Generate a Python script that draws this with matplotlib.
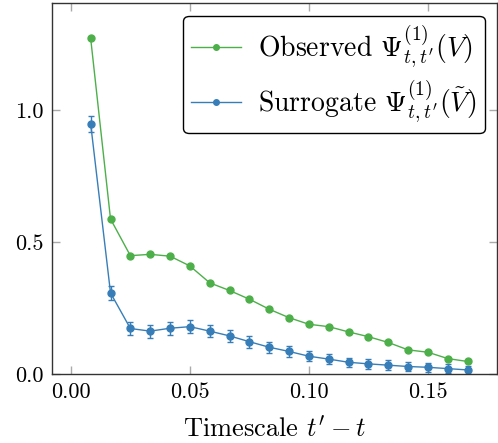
import numpy as np
import matplotlib
matplotlib.use("Agg")
import matplotlib.pyplot as plt
from matplotlib.lines import Line2D

plt.rcParams["font.family"] = "serif"
plt.rcParams["font.serif"] = ["cmr10", "DejaVu Serif"]
plt.rcParams["mathtext.fontset"] = "cm"
plt.rcParams["axes.formatter.use_mathtext"] = True

# timescales t' - t (k/120)
timescale = [k / 120 for k in range(1, 21)]

observed = [1.271, 0.587, 0.448, 0.453, 0.446, 0.409, 0.345, 0.316, 0.283, 0.245,
            0.213, 0.188, 0.179, 0.159, 0.141, 0.119, 0.091, 0.082, 0.058, 0.047]

surrogate = [0.947, 0.307, 0.172, 0.162, 0.173, 0.179, 0.162, 0.144, 0.122, 0.101,
             0.085, 0.067, 0.056, 0.044, 0.038, 0.033, 0.028, 0.025, 0.020, 0.015]
surrogate_err = [0.032, 0.027, 0.024, 0.025, 0.024, 0.025, 0.023, 0.023, 0.022, 0.021,
                 0.020, 0.020, 0.019, 0.018, 0.018, 0.018, 0.018, 0.018, 0.017, 0.016]

green = "#4daf4a"
blue = "#377eb8"

fig = plt.figure(figsize=(4.98, 4.43), dpi=100)
ax = fig.add_axes([0.104, 0.156, 0.894, 0.837])

ax.plot(timescale, observed, color=green, lw=1.0, marker="o", ms=5)
ax.errorbar(timescale, surrogate, yerr=surrogate_err, color=blue, lw=1.0,
            marker="o", ms=5, capsize=2.5, elinewidth=1.0, ecolor=blue)

ax.set_xlim(-0.008, 0.179)
ax.set_ylim(0, 1.405)
ax.set_xticks([0.0, 0.05, 0.10, 0.15])
ax.set_xticklabels(["0.00", "0.05", "0.10", "0.15"])
ax.set_yticks([0.0, 0.5, 1.0])
ax.set_yticklabels(["0.0", "0.5", "1.0"])
ax.tick_params(direction="in", length=6, width=1.0, color="#aaaaaa",
               top=True, right=True, labelsize=16, pad=6)
for s in ax.spines.values():
    s.set_linewidth(1.0)
    s.set_color("#333333")

ax.set_xlabel(r"Timescale $t' - t$", fontsize=19, labelpad=10)

handles = [
    Line2D([], [], color=green, lw=1.0, marker="o", ms=4),
    Line2D([], [], color=blue, lw=1.0, marker="o", ms=4),
]
labels = [r"Observed $\Psi^{(1)}_{t,t'}(V)$",
          r"Surrogate $\Psi^{(1)}_{t,t'}(\tilde{V})$"]
leg = ax.legend(handles, labels, loc="upper right", fontsize=20, fancybox=True,
                framealpha=1, edgecolor="black", handlelength=1.8,
                handletextpad=0.6, borderaxespad=0.45, labelspacing=0.3,
                borderpad=0.3)
leg.get_frame().set_linewidth(1.0)

fig.savefig("out.png", dpi=100)
